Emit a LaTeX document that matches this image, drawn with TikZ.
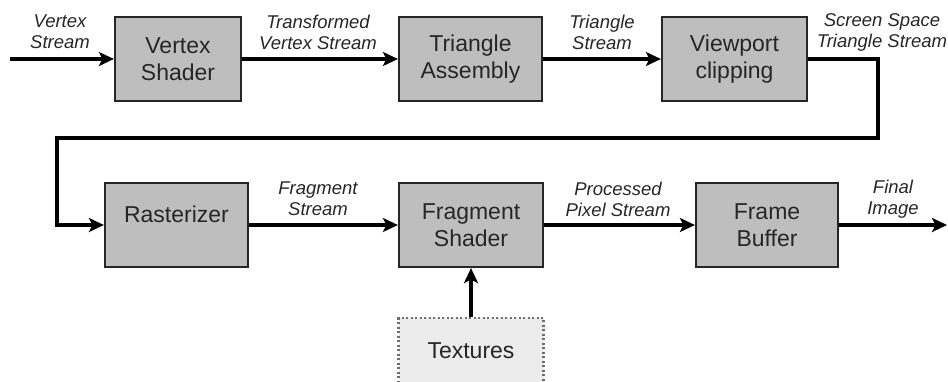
\documentclass[tikz,border=0pt]{standalone}
\usepackage{fontspec}
\setmainfont{Liberation Sans}
\usetikzlibrary{arrows.meta}

\definecolor{stagegray}{RGB}{190,190,190}
\definecolor{texgray}{RGB}{236,236,236}
\definecolor{dotgray}{RGB}{110,110,110}

\tikzset{
  stage/.style={draw=black!85, line width=2.2pt, fill=stagegray, minimum height=84pt,
    align=center, font=\fontsize{23}{26.5}\selectfont, inner sep=0pt, text=black!85},
  extra/.style={draw=dotgray, dash pattern=on 2pt off 2.5pt, line width=2.2pt, fill=texgray,
    minimum width=145pt, minimum height=66pt, align=center,
    font=\fontsize{23}{26.5}\selectfont, text=black!85},
  lbl/.style={align=center, font=\fontsize{18.5}{21}\selectfont\itshape, inner sep=0pt, text=black!85},
  flow/.style={line width=3.2pt, -{Stealth[length=15pt,width=14pt,inset=3.5pt]}},
}

\begin{document}
\begin{tikzpicture}[x=1pt,y=-1pt]
\useasboundingbox (0,0) rectangle (948,381);

% upper row
\node[stage, minimum width=126pt] (vs) at (178,59) {Vertex\\Shader};
\node[stage, minimum width=143pt] (ta) at (470.5,59) {Triangle\\Assembly};
\node[stage, minimum width=145pt] (vc) at (734.5,59) {Viewport\\clipping};

% lower row
\node[stage, minimum width=143pt] (ras) at (176.5,225) {\raisebox{11pt}[16pt][0pt]{Rasterizer}};
\node[stage, minimum width=144pt] (fs) at (471,225) {Fragment\\Shader};
\node[stage, minimum width=142pt] (fb) at (767,225) {Frame\\Buffer};
\node[extra] (tex) at (471,351) {Textures};

% stream labels
\node[lbl] (l1) at (60,32) {Vertex\\Stream};
\node[lbl] (l2) at (318,32) {Transformed\\Vertex Stream};
\node[lbl] (l3) at (602,32) {Triangle\\Stream};
\node[lbl] (l4) at (882,32) {Screen Space\\Triangle Stream};
\node[lbl] (l5) at (318,199) {Fragment\\Stream};
\node[lbl] (l6) at (618,199) {Processed\\Pixel Stream};
\node[lbl] (l7) at (893,199) {Final\\Image};

\coordinate (in) at (10,59);
\coordinate (out) at (947,225);
\coordinate (bendR) at (878,138); % wrap round to the lower row
\coordinate (bendL) at (57,138);

\draw[flow] (in) -- (vs);
\draw[flow] (vs) -- (ta);
\draw[flow] (ta) -- (vc);
\draw[flow] (vc.east) -| (bendR) -- (bendL) |- (ras.west);
\draw[flow] (ras) -- (fs);
\draw[flow] (fs) -- (fb);
\draw[flow] (fb) -- (out);
\draw[flow] (tex) -- (fs);

\end{tikzpicture}
\end{document}
